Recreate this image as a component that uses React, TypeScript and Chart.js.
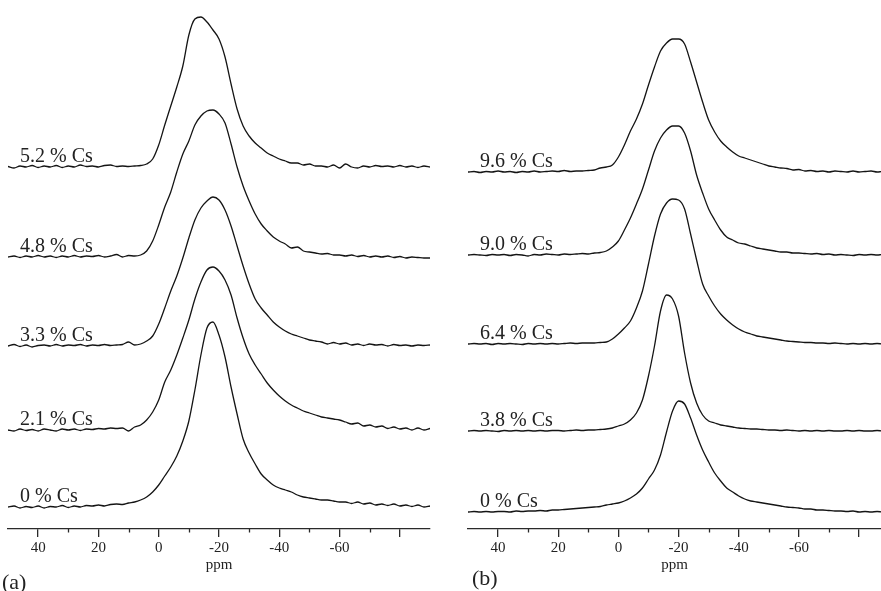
import React, { useEffect, useRef } from "react";
import { Chart, registerables } from "chart.js";

Chart.register(...registerables);

// Chemical shift grid (ppm), shared by all spectra
const PPM = [
  50, 48, 46, 44, 42, 40, 38, 36, 34, 32,
  30, 28, 26, 24, 22, 20, 18, 16, 14, 12,
  10, 8, 6, 4, 2, 0, -2, -4, -6, -8,
  -10, -12, -14, -16, -18, -20, -22, -24, -26, -28,
  -30, -32, -34, -36, -38, -40, -42, -44, -46, -48,
  -50, -52, -54, -56, -58, -60, -62, -64, -66, -68,
  -70, -72, -74, -76, -78, -80, -82, -84, -86, -88,
  -90,
];

const MAJOR_TICKS = [40, 20, 0, -20, -40, -60, -80];
const MAJOR_TICK_LABELS = ["40", "20", "0", "-20", "-40", "-60", ""];
const MINOR_TICKS = [30, 10, -10, -30, -50, -70];
const AXIS_TITLE = "ppm";

// ---------- Panel (a) ----------
const A_LABELS = ["5.2 % Cs", "4.8 % Cs", "3.3 % Cs", "2.1 % Cs", "0 % Cs"];
const A_OFFSETS = [362, 272, 183, 99, 22];

const A_CS52 = [
  0.5, -1, 1, 0, 1.5, -0.5, 1, 0, 1.5, -0.5,
  1, 0, 2, 0.5, 1, 0, 1.5, 2, 0.5, 1,
  0.5, 1, 1.5, 3, 8, 22, 42, 61, 80, 101,
  132, 148, 150, 145, 137, 128, 110, 83, 58, 41,
  31, 24, 19, 14, 11, 8, 6, 4, 4, 2,
  3, 1, 1, 0, 2, -1, 3, 0, -1, 1,
  0, 1.5, 0.5, 1, 0, 1.5, 0, 1, -0.5, 1,
  0,
];
const A_CS48 = [
  0, 1, -0.5, 1, 0, 1.5, 0, 1, -0.5, 1,
  0, 1.5, 0, 1, 0.5, 1.5, 0, 1, 2.5, 0,
  1.5, 1, 2, 6, 16, 32, 50, 65, 85, 103,
  116, 132, 141, 146, 147, 143, 134, 113, 90, 71,
  56, 43, 33, 26, 20, 16, 13, 9, 10, 6,
  5, 4, 3, 3.5, 2, 2, 1, 2, 0.5, 1.5,
  0, 1, 0, 1, -0.5, 0.5, -1, 0, -0.5, -1,
  -1,
];
const A_CS33 = [
  0, 1.5, -0.5, 1, -1, 0.5, 1, 0, 1.5, 0,
  1, 0.5, 1.5, 0, 1, 0.5, 1.5, 0.5, 1, 1.5,
  4, 1, 2, 5, 10, 22, 38, 55, 70, 88,
  108, 126, 138, 145, 149, 146, 136, 120, 100, 80,
  62, 47, 38, 31, 24, 19, 15, 12, 10, 8,
  6, 5, 4, 2, 3.5, 2, 3, 1, 2, 0.5,
  2, 1, 1.5, 0, 1.5, 0.5, 1, 0, 1, 0.5,
  1,
];
const A_CS21 = [
  0, -1, 1, -0.5, 0.5, -1, 1, 0, -1, 1,
  0, 1, -0.5, 1, 0.5, 1.5, 1, 2, 1.5, 2,
  -1, 3, 5, 10, 18, 30, 48, 60, 75, 92,
  110, 131, 148, 160, 163, 159, 150, 135, 112, 92,
  76, 65, 56, 47, 40, 34, 29, 25, 22, 19,
  17, 15, 13, 12, 11, 10, 8, 6, 7, 4,
  5, 3, 4, 1.5, 3, 1, 2, 0, 2, 0,
  1.5,
];
const A_CS0 = [
  0, 1, -1, 0.5, -0.5, 1, -1, 0.5, 0, 1.5,
  -0.5, 1, 0, 1.5, 1, 2, 1, 2.5, 3, 2.5,
  4, 5, 7, 10, 15, 22, 31, 40, 51, 66,
  86, 117, 152, 179, 185, 172, 150, 120, 93, 68,
  54, 43, 33, 27, 22, 19, 17, 15, 12, 10,
  9, 8, 7, 7, 6, 5, 5, 3.5, 5, 3,
  4, 2, 3, 1.5, 3, 1, 2, 0.5, 2, 0,
  1,
];

// ---------- Panel (b) ----------
const B_LABELS = ["9.6 % Cs", "9.0 % Cs", "6.4 % Cs", "3.8 % Cs", "0 % Cs"];
const B_OFFSETS = [357, 274, 185, 98, 17];

const B_CS96 = [
  0, 0.5, -0.5, 0.5, 0, 1, 0, 0.5, -0.5, 0.5,
  0, 1, 0, 0.5, 1, 0.5, 1.5, 0.5, 1, 1,
  1.5, 2, 4, 5, 7, 15, 27, 41, 53, 68,
  87, 105, 121, 129, 133, 133, 128, 110, 90, 70,
  52, 40, 31, 25, 20, 16, 14, 12, 10, 8,
  6, 5, 4, 3.5, 2, 2.5, 1, 1.5, 0.5, 1,
  0, 1, 0.5, 0, 1, 0, 0.5, 1, 0, 0.5,
  0,
];
const B_CS90 = [
  0, 0.5, 0, -0.5, 0.5, 0, 0.5, -0.5, 0.5, 0,
  -1, 0.5, 0, 1, 0.5, 0, 1, 0.5, 1, 1.5,
  1, 2, 2.5, 4, 8, 14, 25, 37, 51, 66,
  85, 104, 117, 125, 129, 129, 122, 104, 80, 62,
  46, 35, 25, 18, 15, 12, 11, 9, 7, 6,
  5, 4, 3, 3, 2, 2, 1.5, 1, 1.5, 0.5,
  1, 0, 0.5, 0, -0.5, 0.5, 0, 0.5, 0, 0.5,
  0,
];
const B_CS64 = [
  0, 0.5, 0, 0.5, -0.5, 0.5, 0, 0.5, 0, -0.5,
  0.5, 0, 0.5, 0, 0.5, 0, 0.5, 1, 0.5, 1,
  1, 1, 1.5, 2, 5, 10, 16, 23, 36, 53,
  80, 108, 130, 141, 145, 144, 135, 110, 84, 60,
  48, 38, 30, 24, 19, 15, 12, 10, 8, 7,
  6, 5, 4, 3, 2.5, 2, 1.5, 1.5, 1, 1,
  0.5, 1, 0.5, 0, 0.5, 0, 0.5, 0, 0.5, 0,
  0,
];
const B_CS38 = [
  0, 0.5, 0, 0.5, 0, -0.5, 0.5, 0, 0.5, 0,
  0.5, 0, 0.5, 0, 0.5, 0.5, 0, 0.5, 1, 0.5,
  1, 1, 1.5, 2, 3, 5, 7, 11, 18, 31,
  55, 85, 120, 136, 132, 115, 78, 48, 28, 16,
  10, 8, 6, 5, 4, 3, 2.5, 2, 2, 1.5,
  1, 1, 0.5, 1, 0.5, 0, 0.5, 0, 0.5, 0,
  0.5, 0, 0, 0.5, 0, 0.5, 0, 0, 0.5, 0,
  0,
];
const B_CS0 = [
  0, 0.5, 0, 0.5, 0, 0.5, 0.5, 0, 1, 0.5,
  1, 1, 1.5, 1, 2, 2, 2.5, 3, 3.5, 4,
  4.5, 5, 5.5, 7, 8, 9, 11, 14, 18, 24,
  33, 42, 57, 80, 101, 111, 108, 94, 77, 62,
  50, 39, 31, 24, 20, 16, 13, 11, 10, 9,
  8, 7, 6, 5, 4.5, 4, 3, 3, 2, 2,
  1.5, 1, 1, 0.5, 1, 0, 0.5, 0, 0.5, 0,
  0,
];

const A_SERIES = [A_CS52, A_CS48, A_CS33, A_CS21, A_CS0];
const B_SERIES = [B_CS96, B_CS90, B_CS64, B_CS38, B_CS0];

const LINE_COLOR = "#141414";
const AXIS_COLOR = "#2a2a2a";
const TEXT_COLOR = "#222";
const SERIF = '"Liberation Serif", "Times New Roman", serif';

const decorPlugin = {
  id: "decor",
  afterDraw(chart: any, _args: any, opts: any) {
    const ctx = chart.ctx;
    const xs = chart.scales.x;
    const ys = chart.scales.y;
    const area = chart.chartArea;
    ctx.save();
    // minor ticks
    ctx.strokeStyle = AXIS_COLOR;
    ctx.lineWidth = 1.3;
    MINOR_TICKS.forEach((v) => {
      const px = Math.round(xs.getPixelForValue(v)) + 0.5;
      ctx.beginPath();
      ctx.moveTo(px, area.bottom);
      ctx.lineTo(px, area.bottom + 3.5);
      ctx.stroke();
    });
    // spectrum labels
    ctx.fillStyle = TEXT_COLOR;
    ctx.font = `20px ${SERIF}`;
    ctx.textAlign = "left";
    ctx.textBaseline = "alphabetic";
    (opts.labels as string[]).forEach((t, i) => {
      ctx.fillText(t, xs.getPixelForValue(opts.labelX), ys.getPixelForValue(opts.offsets[i]) - 5);
    });
    // panel tag
    ctx.font = `22px ${SERIF}`;
    ctx.fillText(opts.tag, opts.tagX, opts.tagY);
    ctx.restore();
  },
};

type PanelProps = {
  series: number[][];
  offsets: number[];
  labels: string[];
  tag: string;
  tagX: number;
  tagY: number;
  xMin: number;
  width: number;
  padLeft: number;
  padRight: number;
};

function Panel(props: PanelProps) {
  const ref = useRef<HTMLCanvasElement | null>(null);
  useEffect(() => {
    if (!ref.current) return;
    const datasets = props.series.map((vals, i) => ({
      label: props.labels[i],
      data: PPM.map((x, j) => ({ x, y: props.offsets[i] + vals[j] })),
      borderColor: LINE_COLOR,
      borderWidth: 1.3,
      pointRadius: 0,
      fill: false,
      tension: 0.3,
      cubicInterpolationMode: "monotone" as const,
    }));
    const chart = new Chart(ref.current, {
      type: "line",
      data: { datasets },
      options: {
        responsive: false,
        maintainAspectRatio: false,
        animation: false,
        events: [],
        layout: { padding: { left: props.padLeft, right: props.padRight, top: 0, bottom: 0 } },
        plugins: {
          legend: { display: false },
          tooltip: { enabled: false },
          decor: {
            labels: props.labels,
            offsets: props.offsets,
            labelX: 46,
            tag: props.tag,
            tagX: props.tagX,
            tagY: props.tagY,
          },
        } as any,
        scales: {
          x: {
            type: "linear",
            reverse: true,
            min: props.xMin,
            max: 50,
            afterBuildTicks: (scale: any) => {
              scale.ticks = MAJOR_TICKS.map((v) => ({ value: v }));
            },
            afterFit: (scale: any) => {
              scale.height = 62;
            },
            border: { display: true, color: AXIS_COLOR, width: 1.3 },
            grid: {
              display: true,
              drawOnChartArea: false,
              drawTicks: true,
              tickLength: 8,
              color: AXIS_COLOR,
              lineWidth: 1.3,
            },
            ticks: {
              autoSkip: false,
              maxRotation: 0,
              padding: 2,
              color: TEXT_COLOR,
              font: { family: SERIF, size: 15 },
              callback: (v: any) => {
                const k = MAJOR_TICKS.indexOf(Number(v));
                return k >= 0 ? MAJOR_TICK_LABELS[k] : "";
              },
            },
            title: {
              display: true,
              text: AXIS_TITLE,
              color: TEXT_COLOR,
              font: { family: SERIF, size: 15 },
              padding: { top: 0, bottom: 17 },
            },
          },
          y: {
            type: "linear",
            display: false,
            min: 0,
            max: 529,
          },
        },
      },
      plugins: [decorPlugin],
    });
    return () => chart.destroy();
  }, []);
  return (
    <canvas
      ref={ref}
      width={props.width}
      height={591}
      style={{ display: "block", width: props.width, height: 591 }}
    />
  );
}

export default function App() {
  return (
    <div style={{ position: "absolute", left: 0, top: 0, width: 881, height: 591, overflow: "hidden", background: "#fff" }}>
      <div style={{ position: "absolute", left: 0, top: 0 }}>
        <Panel
          series={A_SERIES}
          offsets={A_OFFSETS}
          labels={A_LABELS}
          tag="(a)"
          tagX={2}
          tagY={589}
          xMin={-90}
          width={440}
          padLeft={8}
          padRight={10}
        />
      </div>
      <div style={{ position: "absolute", left: 440, top: 0 }}>
        <Panel
          series={B_SERIES}
          offsets={B_OFFSETS}
          labels={B_LABELS}
          tag="(b)"
          tagX={32}
          tagY={585}
          xMin={-87.3}
          width={441}
          padLeft={28}
          padRight={0}
        />
      </div>
    </div>
  );
}
